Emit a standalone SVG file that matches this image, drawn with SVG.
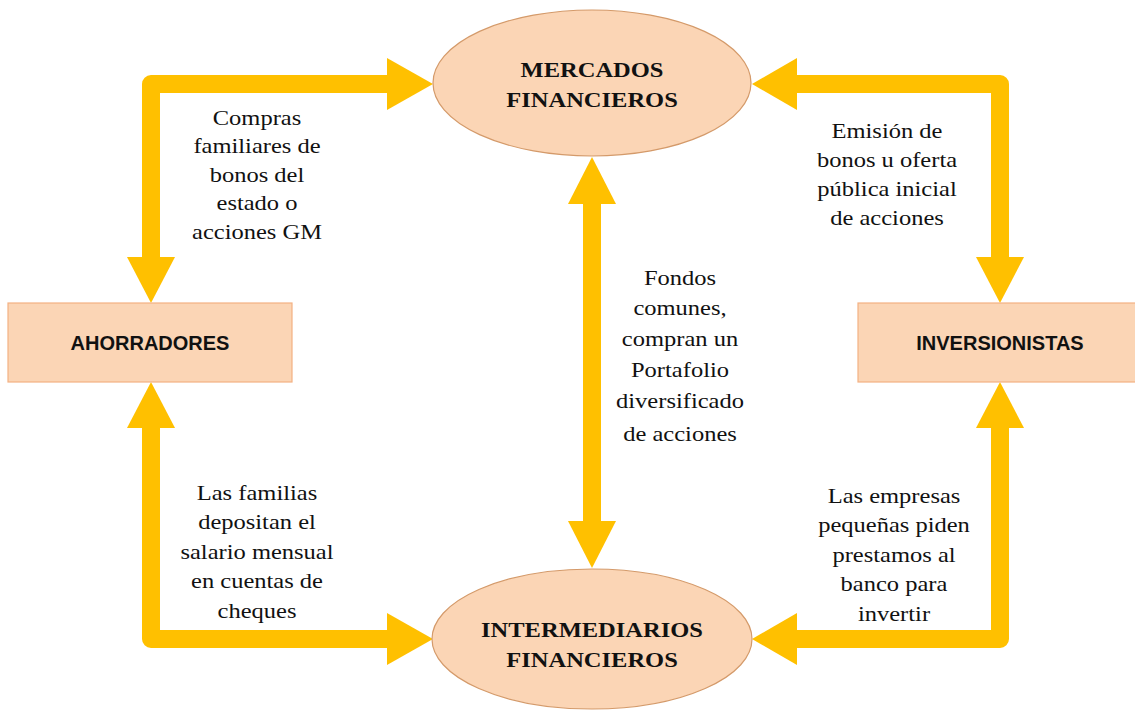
<svg xmlns="http://www.w3.org/2000/svg" width="1135" height="715" viewBox="0 0 1135 715">
<style>
.bg{fill:#ffffff}
.shaft{fill:none;stroke:#FFC000;stroke-width:18;stroke-linejoin:round}
.head{fill:#FFC000}
.box{fill:#FBD5B5;stroke:#F4B183;stroke-width:1.2}
.ell{fill:#FBD5B5;stroke:#D49A6A;stroke-width:1.2}
.lbl{font-family:"Liberation Serif","Times New Roman",serif;font-size:21.5px;fill:#111;text-anchor:middle}
.ttl{font-family:"Liberation Serif","Times New Roman",serif;font-size:21.5px;font-weight:bold;fill:#111;text-anchor:middle}
.box-t{font-family:"Liberation Sans",Arial,sans-serif;font-size:20px;font-weight:bold;fill:#111;text-anchor:middle}
</style>
<rect class="bg" x="0" y="0" width="1135" height="715"/>
<g id="connectors">
  <path class="shaft" d="M398,84 H151 V262"/>
  <polygon class="head" points="387,58 433,84 387,110"/>
  <polygon class="head" points="127,257 175,257 151,303"/>
  <path class="shaft" d="M151,428 V639 H398"/>
  <polygon class="head" points="127,428 175,428 151,382"/>
  <polygon class="head" points="387,613 433,639 387,665"/>
  <path class="shaft" d="M787,84 H1000 V262"/>
  <polygon class="head" points="797,58 752,84 797,110"/>
  <polygon class="head" points="976,257 1024,257 1000,303"/>
  <path class="shaft" d="M1000,428 V639 H787"/>
  <polygon class="head" points="976,428 1024,428 1000,382"/>
  <polygon class="head" points="797,613 752,639 797,665"/>
  <path class="shaft" d="M592,200 V525"/>
  <polygon class="head" points="568,204 616,204 592,157"/>
  <polygon class="head" points="568,521 616,521 592,568"/>
</g>
<g id="mercados">
  <ellipse class="ell" cx="592" cy="83" rx="159" ry="73"/>
  <text class="ttl" transform="translate(592,0) scale(1.14,1)"><tspan x="0" y="77">MERCADOS</tspan><tspan x="0" y="107">FINANCIEROS</tspan></text>
</g>
<g id="intermediarios">
  <ellipse class="ell" cx="592" cy="639" rx="160" ry="70"/>
  <text class="ttl" transform="translate(592,0) scale(1.14,1)"><tspan x="0" y="637">INTERMEDIARIOS</tspan><tspan x="0" y="667">FINANCIEROS</tspan></text>
</g>
<g id="ahorradores">
  <rect class="box" x="8" y="303" width="284" height="79"/>
  <text class="box-t" x="150" y="350">AHORRADORES</text>
</g>
<g id="inversionistas">
  <rect class="box" x="858" y="303" width="282" height="79"/>
  <text class="box-t" x="1000" y="350">INVERSIONISTAS</text>
</g>
<g id="labels">
  <text class="lbl" transform="translate(257,0) scale(1.14,1)"><tspan x="0" y="125">Compras</tspan><tspan x="0" y="153">familiares de</tspan><tspan x="0" y="182">bonos del</tspan><tspan x="0" y="210">estado o</tspan><tspan x="0" y="239">acciones GM</tspan></text>
  <text class="lbl" transform="translate(887,0) scale(1.14,1)"><tspan x="0" y="138">Emisión de</tspan><tspan x="0" y="167">bonos u oferta</tspan><tspan x="0" y="196">pública inicial</tspan><tspan x="0" y="225">de acciones</tspan></text>
  <text class="lbl" transform="translate(680,0) scale(1.14,1)"><tspan x="0" y="285">Fondos</tspan><tspan x="0" y="315">comunes,</tspan><tspan x="0" y="346">compran un</tspan><tspan x="0" y="377">Portafolio</tspan><tspan x="0" y="408">diversificado</tspan><tspan x="0" y="441">de acciones</tspan></text>
  <text class="lbl" transform="translate(257,0) scale(1.14,1)"><tspan x="0" y="500">Las familias</tspan><tspan x="0" y="529">depositan el</tspan><tspan x="0" y="559">salario mensual</tspan><tspan x="0" y="588">en cuentas de</tspan><tspan x="0" y="618">cheques</tspan></text>
  <text class="lbl" transform="translate(894,0) scale(1.14,1)"><tspan x="0" y="503">Las empresas</tspan><tspan x="0" y="532">pequeñas piden</tspan><tspan x="0" y="562">prestamos al</tspan><tspan x="0" y="591">banco para</tspan><tspan x="0" y="621">invertir</tspan></text>
</g>
</svg>
